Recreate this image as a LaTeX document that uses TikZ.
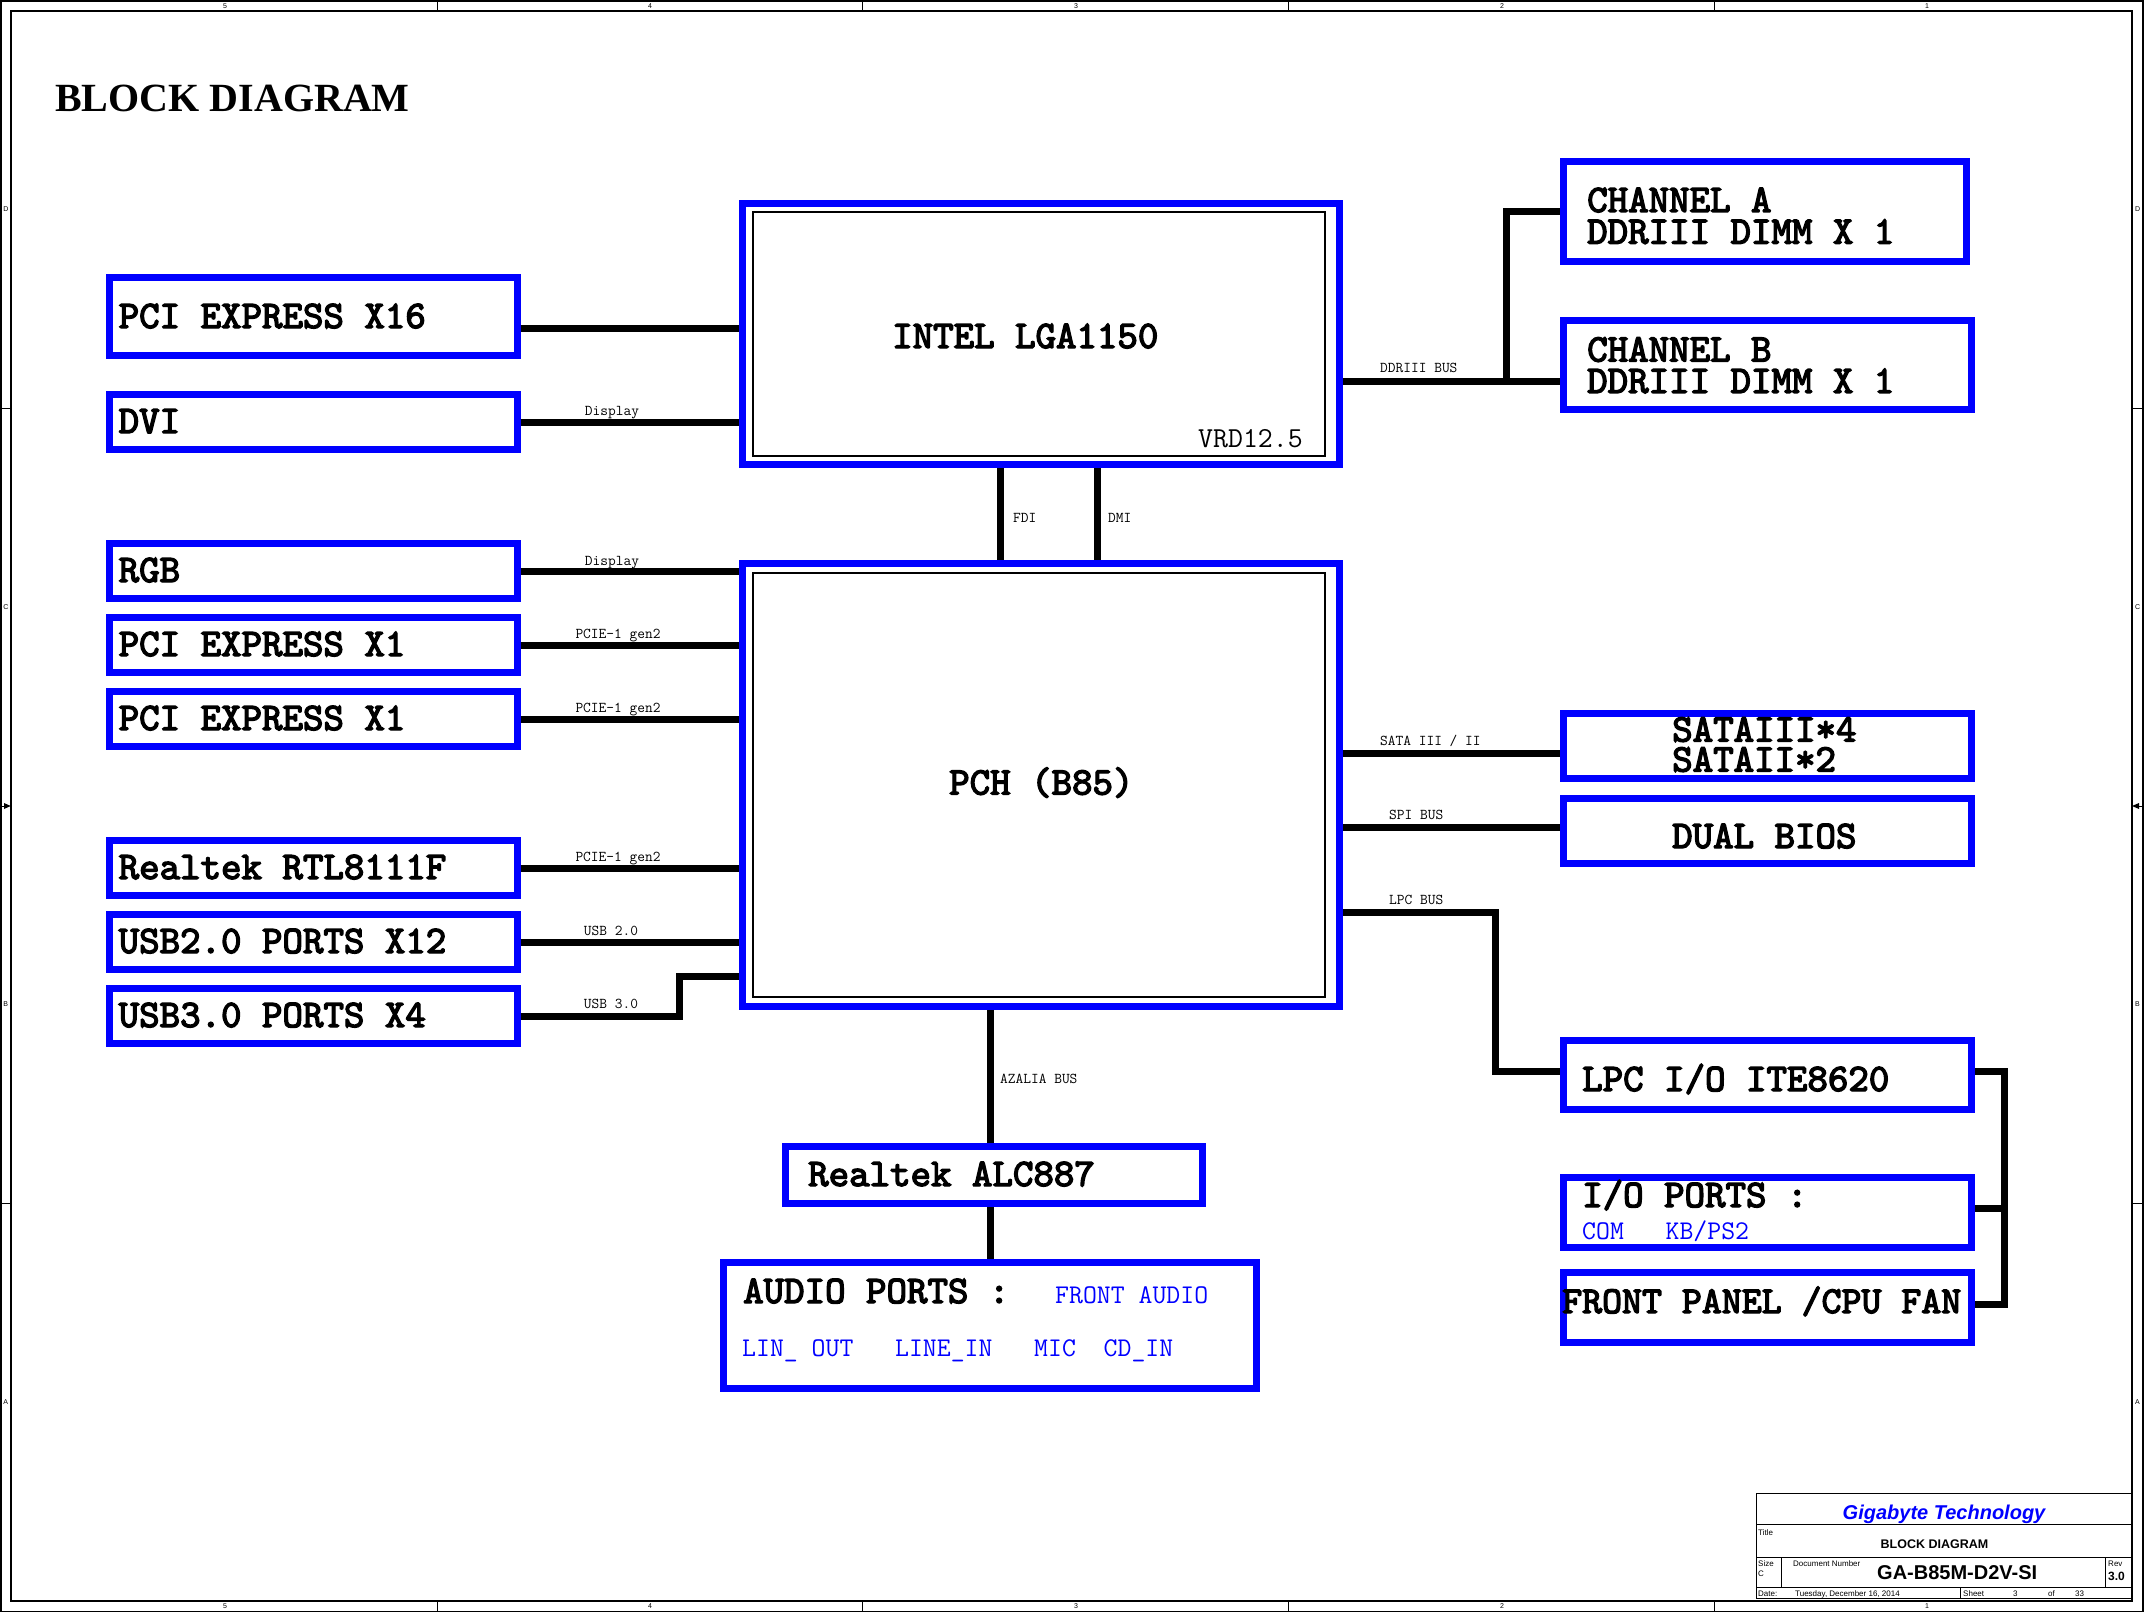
\documentclass[tikz,border=0pt]{standalone}
\usepackage{fontspec}
\setmainfont{Liberation Serif}
\newfontfamily\sansf{Liberation Sans}
\newfontfamily\lmtb{lmmono10-regular.otf}[FakeBold=3.5]
\newcommand\bxf{\lmtb\fontsize{39}{30}\selectfont}
\newcommand\fpf{\lmtb\fontsize{38}{40}\selectfont}
\newcommand\lblf{\ttfamily\fontsize{15}{16}\selectfont}
\newcommand\bluef{\ttfamily\fontsize{27}{30}\selectfont}
\newcommand\vrdf{\ttfamily\fontsize{29}{32}\selectfont}
\begin{document}
\begin{tikzpicture}[x=1pt,y=-1pt,
  bb/.style={draw=blue, line width=7pt, inner sep=0pt, rectangle},
  innerrect/.style={draw=black, line width=1.5pt, inner sep=0pt, rectangle},
  bus/.style={line width=7pt, black},
  bt/.style={anchor=base west, font=\bxf, inner sep=0pt},
  bl/.style={anchor=base west, font=\bluef, text=blue, inner sep=0pt},
  lbl/.style={anchor=base, font=\lblf, inner sep=0pt},
  lbw/.style={anchor=base west, font=\lblf, inner sep=0pt},
  frm/.style={anchor=center, font=\sansf\fontsize{7}{8}\selectfont, inner sep=0pt},
  tb/.style={anchor=base west, font=\sansf\fontsize{8}{9}\selectfont, inner sep=0pt},
  tbl/.style={line width=1pt}]
\useasboundingbox (0,0) rectangle (2152,1613);
% ---------- sheet frame ----------
\draw[line width=1.2pt] (1,1) rectangle (2143,1611.5);
\draw[line width=2.2pt] (10.7,10.7) rectangle (2132,1600.7);
\foreach \xx in {437,862,1288,1714}{
  \draw[line width=1pt] (\xx,1) -- (\xx,10.7);
  \draw[line width=1pt] (\xx,1600.7) -- (\xx,1611.5);}
\foreach \xx/\tt [count=\i] in {225/5,650/4,1076/3,1502/2,1927/1}{
  \node[frm] (ct\i) at (\xx,6) {\tt};
  \node[frm] (cb\i) at (\xx,1606) {\tt};}
\foreach \yy in {408,1203}{
  \draw[line width=1pt] (1,\yy) -- (10.7,\yy);
  \draw[line width=1pt] (2132,\yy) -- (2143,\yy);}
\foreach \yy/\tt [count=\i] in {209/D,607/C,1004/B,1402/A}{
  \node[frm] (rl\i) at (5.8,\yy) {\tt};
  \node[frm] (rr\i) at (2137.5,\yy) {\tt};}
\draw[line width=1pt] (1,806) -- (5,806);
\fill (10.7,806) -- (4,803) -- (4,809) -- cycle;
\draw[line width=1pt] (2143,806) -- (2139,806);
\fill (2132,806) -- (2139,803) -- (2139,809) -- cycle;
% ---------- title ----------
\node[anchor=base west, inner sep=0pt, font=\bfseries\fontsize{40}{44}\selectfont] (title) at (55,112) {BLOCK DIAGRAM};
% ---------- CPU and PCH ----------
\node[bb, minimum width=597pt, minimum height=261pt] (intel) at (1041,334) {};
\node[innerrect, minimum width=572pt, minimum height=244pt] (intelin) at (1039,334) {};
\node[bt] (inteltxt) at (892,348) {INTEL LGA1150};
\node[anchor=base west, font=\vrdf, inner sep=0pt] (vrd) at (1198,447) {VRD12.5};
\node[bb, minimum width=597pt, minimum height=443pt] (pch) at (1041,785) {};
\node[innerrect, minimum width=572pt, minimum height=424pt] (pchin) at (1039,785) {};
\node[bt] (pchtxt) at (949,794.5) {PCH (B85)};
% ---------- left boxes ----------
\node[bb, minimum width=407.5pt, minimum height=77pt] (pcix16) at (313.25,316.5) {};
\node[bt] (tx16) at (118.5,328) {PCI EXPRESS X16};
\foreach \nm/\cy/\tt in {dvi/422/DVI, rgb/571/RGB, pcieA/645/PCI EXPRESS X1, pcieB/719/PCI EXPRESS X1, rtl/868/Realtek RTL8111F, usbII/942/USB2.0 PORTS X12, usbIII/1016/USB3.0 PORTS X4}{
  \node[bb, minimum width=407.5pt, minimum height=55pt] (\nm) at (313.25,\cy) {};
  \node[bt] (\nm txt) at (118.5,\cy+11) {\tt};}
% ---------- right boxes ----------
\node[bb, minimum width=403pt, minimum height=100pt] (cha) at (1765,211.5) {};
\node[anchor=north west, align=left, font=\bxf, inner sep=0pt] (chatxt) at (1587,187.5) {CHANNEL A\\[1.6pt]DDRIII DIMM X 1};
\node[bb, minimum width=408pt, minimum height=89pt] (chb) at (1767.5,365) {};
\node[anchor=north west, align=left, font=\bxf, inner sep=0pt] (chbtxt) at (1587,337) {CHANNEL B\\[1.4pt]DDRIII DIMM X 1};
\node[bb, minimum width=408pt, minimum height=65.7pt] (sata) at (1767.5,746) {};
\node[anchor=north west, align=left, font=\bxf, inner sep=0pt] (satatxt) at (1672,717) {SATAIII*4\\SATAII*2};
\node[bb, minimum width=408pt, minimum height=65.5pt] (bios) at (1767.5,831) {};
\node[bt] (biostxt) at (1672,848) {DUAL BIOS};
\node[bb, minimum width=408pt, minimum height=69pt] (lpc) at (1767.5,1075) {};
\node[bt] (lpctxt) at (1582,1091) {LPC I/O ITE8620};
\node[bb, minimum width=408pt, minimum height=70pt] (io) at (1767.5,1212.5) {};
\node[bt] (iotxt) at (1582,1207) {I/O PORTS :};
\node[bl] (iobl) at (1582,1239) {COM\ \ \ KB/PS2};
\node[bb, minimum width=408pt, minimum height=70pt] (front) at (1767.5,1307.5) {};
\node[anchor=base west, font=\fpf, inner sep=0pt] (fronttxt) at (1562,1313) {FRONT PANEL /CPU FAN};
% ---------- audio ----------
\node[bb, minimum width=417pt, minimum height=57pt] (alc) at (994,1175) {};
\node[bt] (alctxt) at (808,1186) {Realtek ALC887};
\node[bb, minimum width=533pt, minimum height=126pt] (audio) at (990,1325.5) {};
\node[bt] (audiotxt) at (743,1303) {AUDIO PORTS :};
\node[bl] (frontaudio) at (1055,1303) {FRONT AUDIO};
\node[bl] (audiolist) at (742,1356) {LIN\_\ OUT\ \ \ LINE\_IN\ \ \ MIC\ \ CD\_IN};
% ---------- connectors ----------
\draw[bus] (pcix16.east |- 0,328) -- (intel.west |- 0,328);
\draw[bus] (dvi.east) -- (dvi.east -| intel.west);
\node[lbl] (ldvi) at (612,415) {Display};
\draw[bus] (rgb.east) -- (rgb.east -| pch.west);
\node[lbl] (lrgb) at (612,565) {Display};
\draw[bus] (pcieA.east) -- (pcieA.east -| pch.west);
\node[lbl] (lpa) at (618,638) {PCIE-1 gen2};
\draw[bus] (pcieB.east) -- (pcieB.east -| pch.west);
\node[lbl] (lpb) at (618,712.5) {PCIE-1 gen2};
\draw[bus] (rtl.east) -- (rtl.east -| pch.west);
\node[lbl] (lrtl) at (618,861.5) {PCIE-1 gen2};
\draw[bus] (usbII.east) -- (usbII.east -| pch.west);
\node[lbl] (lu2) at (611,935.5) {USB 2.0};
\draw[bus] (usbIII.east) -| (679,976) -- (pch.west |- 0,976);
\node[lbl] (lu3) at (611,1008) {USB 3.0};
\draw[bus] (intel.south -| 1000,0) -- (pch.north -| 1000,0);
\draw[bus] (intel.south -| 1097,0) -- (pch.north -| 1097,0);
\node[lbw] (lfdi) at (1013,522) {FDI};
\node[lbw] (ldmi) at (1108,522) {DMI};
\draw[bus] (intel.east |- 0,381.5) -- (chb.west |- 0,381.5);
\draw[bus] (1506,381.5) |- (cha.west);
\node[lbw] (lddr) at (1380,372.5) {DDRIII BUS};
\draw[bus] (pch.east |- 0,753) -- (sata.west |- 0,753);
\node[lbw] (lsata) at (1380,745) {SATA III / II};
\draw[bus] (pch.east |- 0,827.5) -- (bios.west |- 0,827.5);
\node[lbw] (lspi) at (1389,819) {SPI BUS};
\draw[bus] (pch.east |- 0,912.5) -- (1495,912.5) |- (lpc.west |- 0,1071);
\node[lbw] (llpc) at (1389,904) {LPC BUS};
\draw[bus] (lpc.east |- 0,1071) -| (2004,1304.5) -- (front.east |- 0,1304.5);
\draw[bus] (io.east |- 0,1208) -- (2004,1208);
\draw[bus] (pch.south -| 990,0) -- (alc.north -| 990,0);
\node[lbw] (laz) at (1000,1083) {AZALIA BUS};
\draw[bus] (alc.south -| 990,0) -- (audio.north -| 990,0);
% ---------- title block ----------
\draw[tbl] (1756,1493.5) -- (2132,1493.5);
\draw[tbl] (1756,1524.3) -- (2132,1524.3);
\draw[tbl] (1756,1557.7) -- (2132,1557.7);
\draw[tbl] (1756,1587) -- (2132,1587);
\draw[tbl] (1756,1598) -- (2132,1598);
\draw[tbl] (1756,1493.5) -- (1756,1598);
\draw[tbl] (1781.7,1557.7) -- (1781.7,1587);
\draw[tbl] (2105,1557.7) -- (2105,1587);
\draw[tbl] (1960.7,1587) -- (1960.7,1598);
\node[anchor=base, inner sep=0pt, text=blue, font=\sansf\bfseries\itshape\fontsize{20}{22}\selectfont] (giga) at (1944,1519.5) {Gigabyte Technology};
\node[tb] (ttl) at (1758,1535) {Title};
\node[anchor=base, inner sep=0pt, font=\sansf\bfseries\fontsize{12.5}{14}\selectfont] (tname) at (1934.5,1548) {BLOCK DIAGRAM};
\node[tb] (tsize) at (1758,1566) {Size};
\node[tb] (tc) at (1758,1576) {C};
\node[tb] (tdoc) at (1793,1566) {Document Number};
\node[anchor=base west, inner sep=0pt, font=\sansf\bfseries\fontsize{20}{22}\selectfont] (tnum) at (1877,1579) {GA-B85M-D2V-SI};
\node[tb] (trev) at (2108,1566) {Rev};
\node[anchor=base west, inner sep=0pt, font=\sansf\bfseries\fontsize{12}{13}\selectfont] (trevn) at (2108,1580) {3.0};
\node[tb] (tdate) at (1758,1596) {Date:};
\node[tb] (tdatev) at (1795,1596) {Tuesday, December 16, 2014};
\node[tb] (tsheet) at (1963,1596) {Sheet};
\node[tb] (tsn) at (2013,1596) {3};
\node[tb] (tof) at (2048,1596) {of};
\node[tb] (ttot) at (2075,1596) {33};
\end{tikzpicture}
\end{document}
